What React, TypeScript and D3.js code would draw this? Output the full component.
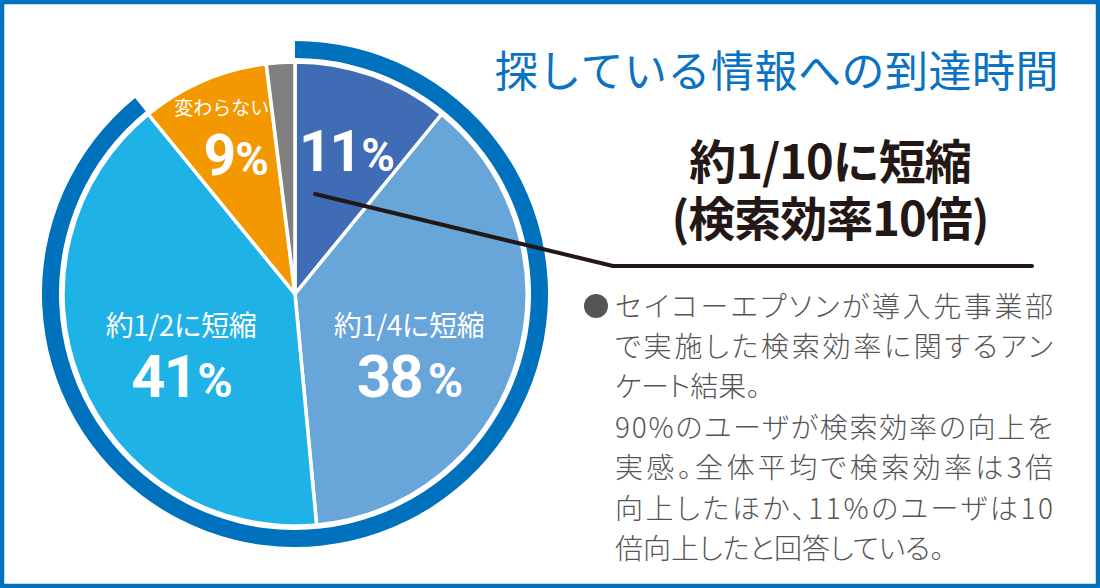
import * as d3 from 'd3';

// slices clockwise from 12 o'clock
const categories = ['約1/10に短縮', '約1/4に短縮', '約1/2に短縮', '変わらない', 'その他'];
const values = [11, 38, 41, 9, 2];
const colors = ['#3f6cb4', '#68a5d9', '#1fb2e7', '#f39800', '#808080'];
// the blue ring marks users who saw an improvement (first three slices)
const improvedSlices = 3;

const title = '探している情報への到達時間';
const calloutLines = ['約1/10に短縮', '(検索効率10倍)'];
const noteLines = [
  'セイコーエプソンが導入先事業部',
  'で実施した検索効率に関するアン',
  'ケート結果。',
  '90%のユーザが検索効率の向上を',
  '実感。全体平均で検索効率は3倍',
  '向上したほか、11%のユーザは10',
  '倍向上したと回答している。',
];
const noteJustified = [true, true, false, true, true, true, false];

const W = 1100;
const H = 588;
const JP = "'Noto Sans CJK JP', 'Noto Sans', sans-serif";
const NUM = "Roboto, 'Noto Sans', sans-serif";

// baseline for a visual vertical centre
const base = (cy: number, fs: number) => cy + 0.375 * fs;
const numBase = (cy: number, fs: number) => cy + 0.356 * fs;

export default function App() {
  const cx = 295;
  const cy = 294;
  const R = 232;

  const arcs = d3.pie<number>().sort(null).value((d) => d)(values);
  const arcGen = d3.arc<d3.PieArcDatum<number>>().innerRadius(0).outerRadius(R);
  const ringPath = d3.arc()({
    innerRadius: 236,
    outerRadius: 253,
    startAngle: arcs[0].startAngle,
    endAngle: arcs[improvedSlices - 1].endAngle,
  }) as string;

  const mid = (a: d3.PieArcDatum<number>) => (a.startAngle + a.endAngle) / 2;

  // leader from the 11% slice to the callout
  const a0 = arcs[0];
  const [lx, ly] = d3.pointRadial(a0.startAngle + (a0.endAngle - a0.startAngle) * 0.29, 102);
  const leader = d3.line()([
    [cx + lx, cy + ly],
    [613, 266],
    [1032, 266],
  ]) as string;

  const pct = (v: number, fs: number, x: number, y: number, gap: number) => (
    <text
      x={x}
      y={numBase(y, fs)}
      textAnchor="middle"
      fill="#fff"
      fontFamily={NUM}
      fontWeight={700}
      fontSize={fs}
      letterSpacing={-2}
    >
      {v}
      <tspan fontSize={fs * 0.8} dx={gap}>%</tspan>
    </text>
  );

  return (
    <svg
      width={W}
      height={H}
      style={{ position: 'absolute', left: 0, top: 0, display: 'block', background: '#fff' }}
    >
      <rect x={2} y={2} width={W - 4} height={H - 4} fill="#fff" stroke="#0071bc" strokeWidth={4.5} />

      <g transform={`translate(${cx},${cy})`}>
        <path d={ringPath} fill="#0071bc" />
        {arcs.map((a, i) => (
          <path
            key={categories[i]}
            d={arcGen(a) as string}
            fill={colors[i]}
            stroke="#fff"
            strokeWidth={3.5}
            strokeLinejoin="round"
          />
        ))}
      </g>

      {/* labels in the small top slices */}
      {[0, 3].map((i) => {
        const [px, py] = d3.pointRadial(mid(arcs[i]), 152);
        return <g key={'top' + i}>{pct(values[i], 57, cx + px, cy + py, 1)}</g>;
      })}
      {(() => {
        const [px, py] = d3.pointRadial(mid(arcs[3]) + 0.03, 200);
        return (
          <text
            x={cx + px}
            y={base(cy + py, 19)}
            textAnchor="middle"
            fill="#fff"
            fontFamily={JP}
            fontSize={19}
          >
            {categories[3]}
          </text>
        );
      })()}

      {/* labels in the two large slices */}
      {[2, 1].map((i) => {
        const [px] = d3.pointRadial(mid(arcs[i]), 122);
        const x = cx + Math.sign(px) * 114;
        return (
          <g key={'big' + i}>
            <text
              x={x}
              y={base(cy + 31, 28)}
              textAnchor="middle"
              fill="#fff"
              fontFamily={JP}
              fontSize={28}
              letterSpacing={-0.5}
            >
              {categories[i]}
            </text>
            {pct(values[i], 60, x, cy + 82, i === 1 ? 6 : 1)}
          </g>
        );
      })}

      <path d={leader} fill="none" stroke="#231815" strokeWidth={4} strokeLinecap="round" strokeLinejoin="round" />

      <text
        x={1059}
        y={base(71, 43)}
        textAnchor="end"
        fill="#0a72c2"
        fontFamily={JP}
        fontSize={43}
        letterSpacing={0.5}
      >
        {title}
      </text>

      <text
        textAnchor="middle"
        fill="#231815"
        fontFamily={JP}
        fontWeight={700}
        fontSize={47}
        letterSpacing={-1}
      >
        {calloutLines.map((t, i) => (
          <tspan key={t} x={830} y={base(161 + i * 57, 47)}>
            {t}
          </tspan>
        ))}
      </text>

      <circle cx={596} cy={306} r={12} fill="#555" />
      {noteLines.map((t, i) => (
        <text
          key={i}
          x={615}
          y={base(306 + i * 40.4, 28)}
          fill="#555"
          fontFamily={JP}
          fontWeight={300}
          fontSize={28}
          style={{ fontFeatureSettings: "'palt'" }}
          {...(noteJustified[i] ? { textLength: 438, lengthAdjust: 'spacing' } : {})}
        >
          {t}
        </text>
      ))}
    </svg>
  );
}
